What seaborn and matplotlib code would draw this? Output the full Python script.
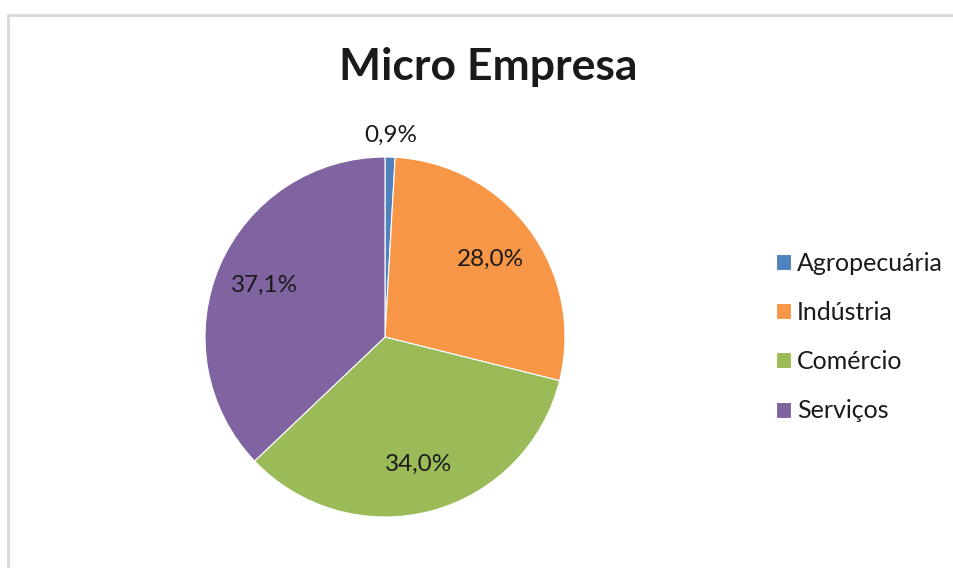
import numpy as np
import matplotlib
matplotlib.use("Agg")
import matplotlib.pyplot as plt
import seaborn as sns
from matplotlib.patches import Rectangle

# dados do gráfico
setores = ["Agropecuária", "Indústria", "Comércio", "Serviços"]
percentuais = [0.9, 28.0, 34.0, 37.1]
cores = ["#4F81BD", "#F79646", "#9BBB59", "#8064A2"]

sns.set_theme(style="white")
plt.rcParams["font.family"] = ["Lato", "DejaVu Sans"]

fig = plt.figure(figsize=(9.54, 5.68), dpi=100)

# moldura da área do gráfico (cortada à direita e embaixo)
fig.patches.append(Rectangle((8 / 954, -0.1), 1.2, 1 - 15 / 568 + 0.1,
                             transform=fig.transFigure, fill=False,
                             edgecolor="#D9D9D9", linewidth=2))

ax = fig.add_axes([205 / 954, 51 / 568, 360 / 954, 360 / 568])
paleta = sns.color_palette(cores)
wedges, textos, pcts = ax.pie(percentuais, colors=paleta, startangle=90,
                             counterclock=False, radius=1,
                             autopct=lambda p: f"{p:.1f}%".replace(".", ","),
                             pctdistance=0.73,
                             wedgeprops={"linewidth": 0.8, "edgecolor": "white"},
                             textprops={"fontsize": 17.5, "color": "#1a1a1a"})
# rótulo do setor pequeno fica fora da pizza
w = wedges[0]
ang = np.deg2rad((w.theta1 + w.theta2) / 2)
pcts[0].set_position((1.12 * np.cos(ang), 1.12 * np.sin(ang)))
ax.set_xlim(-1, 1)
ax.set_ylim(-1, 1)
ax.set_aspect("equal")

fig.text(488 / 954, 1 - 67 / 568, "Micro Empresa", ha="center", va="center",
         fontsize=32, fontweight="bold", color="#1a1a1a")

fig.legend(wedges, setores, loc="center left",
           bbox_to_anchor=(753 / 954, 1 - 337 / 568), frameon=False,
           fontsize=18, handlelength=0.6, handleheight=0.6,
           handletextpad=0.25, labelspacing=1.05, labelcolor="#1a1a1a")

fig.savefig("out.png", dpi=100, facecolor="white")
